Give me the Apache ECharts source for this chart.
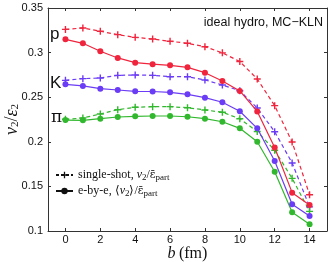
<!DOCTYPE html>
<html>
<head>
<meta charset="utf-8">
<script src="https://cdn.jsdelivr.net/npm/echarts@6/dist/echarts.min.js"></script>
<style>html,body{margin:0;padding:0;background:#fff}#c{width:332px;height:262px}</style>
</head>
<body>
<div id="c"></div>
<script>
// impact parameter b (fm)
const bValues = [0,1,2,3,4,5,6,7,8,9,10,11,12,13,14];
const xTicks = [0,2,4,6,8,10,12,14];
// protons
const pSingle = [0.326,0.3276,0.3239,0.3201,0.3171,0.3152,0.3127,0.3104,0.3066,0.2997,0.2900,0.2704,0.2405,0.1997,0.1407];
const pEbe    = [0.3149,0.3104,0.3015,0.2940,0.2887,0.2870,0.2857,0.2835,0.2775,0.2682,0.2570,0.2340,0.1936,0.1430,0.1292];
// kaons
const kSingle = [0.2689,0.2708,0.2715,0.2745,0.2749,0.2745,0.2730,0.2730,0.2693,0.2637,0.2572,0.2379,0.2113,0.1763,0.1270];
const kEbe    = [0.2644,0.2626,0.2596,0.2581,0.2566,0.2564,0.2555,0.2532,0.2495,0.2443,0.2342,0.2151,0.1785,0.1301,0.1168];
// pions
const piSingle = [0.2252,0.2267,0.2312,0.2360,0.2387,0.2394,0.2394,0.2382,0.2357,0.2331,0.2258,0.2115,0.1905,0.1590,0.1220];
const piEbe    = [0.2244,0.2241,0.2259,0.2278,0.2286,0.2289,0.2289,0.2281,0.2259,0.2225,0.2151,0.2001,0.1665,0.1210,0.1075];

const colors = {p:'#f0243c', k:'#6b3cf5', pi:'#32b82e'};
const plusPath = 'path://M4,0H6V4H10V6H6V10H4V6H0V4H4Z';

function pairs(ys){ return bValues.map((b,i)=>[b, ys[i]]); }
function single(name, ys, color){
  return {type:'line', name:name, data:pairs(ys), symbol:plusPath, symbolSize:7,
    itemStyle:{color:color}, lineStyle:{color:color, width:1.2, type:[4,3]}, z:2};
}
function ebe(name, ys, color){
  return {type:'line', name:name, data:pairs(ys), symbol:'circle', symbolSize:6,
    itemStyle:{color:color}, lineStyle:{color:color, width:1.2}, z:3};
}

const axisCol = '#333';
const serif = 'Liberation Serif';
const chart = echarts.init(document.getElementById('c'), null, {renderer:'canvas'});
chart.setOption({
  animation:false,
  grid:{left:48, right:5, top:8, bottom:31, outerBoundsMode:'none', containLabel:false},
  xAxis:[{
    type:'value', min:-1, max:15, position:'bottom',
    axisLine:{onZero:false, lineStyle:{color:axisCol, width:1}},
    axisTick:{inside:true, length:3, customValues:xTicks, lineStyle:{color:axisCol}},
    axisLabel:{customValues:xTicks, fontSize:11, color:'#111', margin:3, fontFamily:'Liberation Sans'},
    splitLine:{show:false},
    name:'{i|b} {r|(fm)}', nameLocation:'middle', nameGap:15, nameMoveOverlap:false,
    nameTextStyle:{rich:{i:{fontFamily:serif, fontStyle:'italic', fontSize:16, color:'#111'}, r:{fontFamily:serif, fontSize:16, color:'#111'}}}
  },{
    type:'value', min:-1, max:15, position:'top',
    axisLine:{onZero:false, lineStyle:{color:axisCol, width:1}},
    axisTick:{inside:true, length:3, customValues:xTicks, lineStyle:{color:axisCol}},
    axisLabel:{show:false}, splitLine:{show:false}
  }],
  yAxis:[{
    type:'value', min:0.1, max:0.35, interval:0.05, position:'left',
    axisLine:{show:true, onZero:false, lineStyle:{color:axisCol, width:1}},
    axisTick:{show:true, inside:true, length:3, lineStyle:{color:axisCol}},
    axisLabel:{fontSize:11, color:'#111', margin:5, fontFamily:'Liberation Sans'},
    splitLine:{show:false},
    name:'{i|v}{s|2}{r|/}{i|ε}{s|2}', nameLocation:'middle', nameGap:27, nameRotate:90, nameMoveOverlap:false,
    nameTextStyle:{rich:{
      i:{fontFamily:serif, fontStyle:'italic', fontSize:18, color:'#111', lineHeight:18},
      r:{fontFamily:serif, fontSize:18, color:'#111', lineHeight:18},
      s:{fontFamily:serif, fontSize:11, color:'#111', verticalAlign:'bottom', lineHeight:14}
    }}
  },{
    type:'value', min:0.1, max:0.35, interval:0.05, position:'right',
    axisLine:{show:true, onZero:false, lineStyle:{color:axisCol, width:1}},
    axisTick:{show:true, inside:true, length:3, lineStyle:{color:axisCol}},
    axisLabel:{show:false}, splitLine:{show:false}
  }],
  legend:{
    orient:'vertical', left:55, top:169, padding:0, itemWidth:17, itemHeight:8, itemGap:3,
    data:['single','ebe'],
    formatter:function(n){
      return n==='single' ? '{r|single-shot, }{i|v}{s|2}{r|/}{e|ε̄}{s|part}'
                          : '{r|e-by-e, ⟨}{i|v}{s|2}{r|⟩/}{e|ε̄}{s|part}';
    },
    textStyle:{rich:{
      r:{fontFamily:serif, fontSize:12, color:'#111', lineHeight:14},
      i:{fontFamily:serif, fontStyle:'italic', fontSize:12, color:'#111', lineHeight:14},
      e:{fontFamily:'DejaVu Serif', fontSize:11, color:'#111', lineHeight:14},
      s:{fontFamily:serif, fontSize:9, color:'#111', verticalAlign:'bottom', lineHeight:12}
    }}
  },
  graphic:[
    {type:'text', x:323, y:23, style:{text:'ideal hydro, MC\u2212KLN', font:'12.5px "Liberation Sans"', fill:'#111', align:'right', verticalAlign:'middle'}},
    {type:'text', x:50, y:34.5, style:{text:'p', font:'17px "Liberation Sans"', fill:'#111', align:'left', verticalAlign:'middle'}},
    {type:'text', x:50, y:83.5, style:{text:'K', font:'17px "Liberation Sans"', fill:'#111', align:'left', verticalAlign:'middle'}},
    {type:'text', x:51, y:117.5, style:{text:'π', font:'17px "DejaVu Serif"', fill:'#111', align:'left', verticalAlign:'middle'}}
  ],
  series:[
    single('p single', pSingle, colors.p),
    ebe('p ebe', pEbe, colors.p),
    single('K single', kSingle, colors.k),
    ebe('K ebe', kEbe, colors.k),
    single('pi single', piSingle, colors.pi),
    ebe('pi ebe', piEbe, colors.pi),
    {type:'line', name:'single', data:[], symbol:plusPath, symbolSize:7, itemStyle:{color:'#111'}, lineStyle:{color:'#111', width:1.2, type:[3,2]}},
    {type:'line', name:'ebe', data:[], symbol:'circle', symbolSize:7, itemStyle:{color:'#111'}, lineStyle:{color:'#111', width:1.2}}
  ]
});
</script>
</body>
</html>
